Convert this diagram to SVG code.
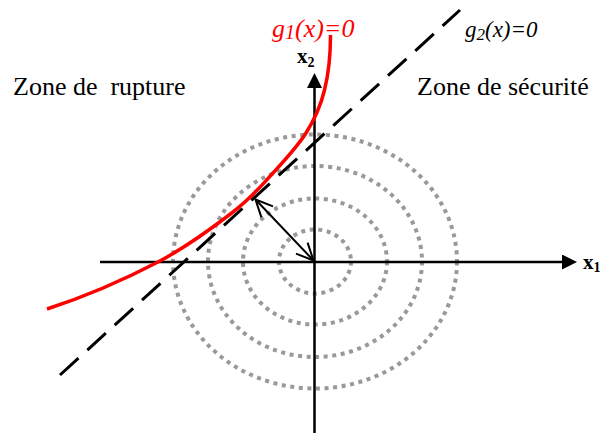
<svg xmlns="http://www.w3.org/2000/svg" width="601" height="433" viewBox="0 0 601 433">
<style>
.lbl{font-family:"Liberation Serif","Times New Roman",serif;fill:#000}
.it{font-style:italic}
.zone{font-size:26px}
.ax{font-size:21px;font-weight:bold}
.dot{fill:none;stroke:#999;stroke-width:4;stroke-dasharray:4 4.6}
.axis{stroke:#000;stroke-width:2.5;fill:none}
</style>
<defs>
<marker id="tri" viewBox="0 0 15 15" refX="0" refY="7.5" markerWidth="15" markerHeight="15" markerUnits="userSpaceOnUse" orient="auto">
<path d="M0,0 L15,7.5 L0,15 Z" fill="#000"/>
</marker>
<marker id="vee" viewBox="-1 -1 20 18" refX="17" refY="8" markerWidth="20" markerHeight="18" markerUnits="userSpaceOnUse" orient="auto-start-reverse">
<path d="M0,0 L17,8 L0,16" fill="none" stroke="#000" stroke-width="2"/>
</marker>
</defs>
<g id="contours">
<ellipse class="dot" cx="315" cy="261.5" rx="36" ry="32"/>
<ellipse class="dot" cx="315" cy="261.5" rx="72" ry="63"/>
<ellipse class="dot" cx="315" cy="261.5" rx="107" ry="95.5"/>
<ellipse class="dot" cx="315" cy="261.5" rx="142" ry="127"/>
</g>
<g id="axes">
<line class="axis" x1="100" y1="262" x2="562" y2="262" marker-end="url(#tri)"/>
<line class="axis" x1="314.5" y1="433" x2="314.5" y2="88" marker-end="url(#tri)"/>
<text class="lbl ax" x="583" y="269">x<tspan font-size="14" dy="3">1</tspan></text>
<text class="lbl ax" x="297" y="63">x<tspan font-size="14" dy="4">2</tspan></text>
</g>
<g id="g2">
<line x1="60" y1="375" x2="460" y2="10" stroke="#000" stroke-width="3" stroke-dasharray="25 12"/>
<text class="lbl it" x="465" y="37" font-size="23" fill="#222">g<tspan font-size="17" dy="3">2</tspan><tspan dy="-3">(x)=0</tspan></text>
</g>
<g id="g1">
<path d="M47,309 C84,297 127,278.2 158,262 C189,245.8 213.8,226.8 233,212 C252.2,197.2 260.8,186.2 273,173 C285.2,159.8 297.3,146.8 306,133 C314.7,119.2 320.6,106.3 324.5,90 C328.6,73.7 330.5,53 330.5,35" fill="none" stroke="#f00" stroke-width="3.5"/>
<text class="lbl it" x="272" y="37" font-size="26" style="fill:#f00">g<tspan font-size="20" dy="2">1</tspan><tspan dy="-2">(x)=0</tspan></text>
</g>
<g id="connectors">
<line x1="313.5" y1="260.5" x2="255.5" y2="199.5" stroke="#000" stroke-width="2" marker-start="url(#vee)" marker-end="url(#vee)"/>
</g>
<g id="zones">
<text class="lbl zone" x="13" y="95" xml:space="preserve">Zone de  rupture</text>
<text class="lbl zone" x="417" y="95">Zone de sécurité</text>
</g>
</svg>
